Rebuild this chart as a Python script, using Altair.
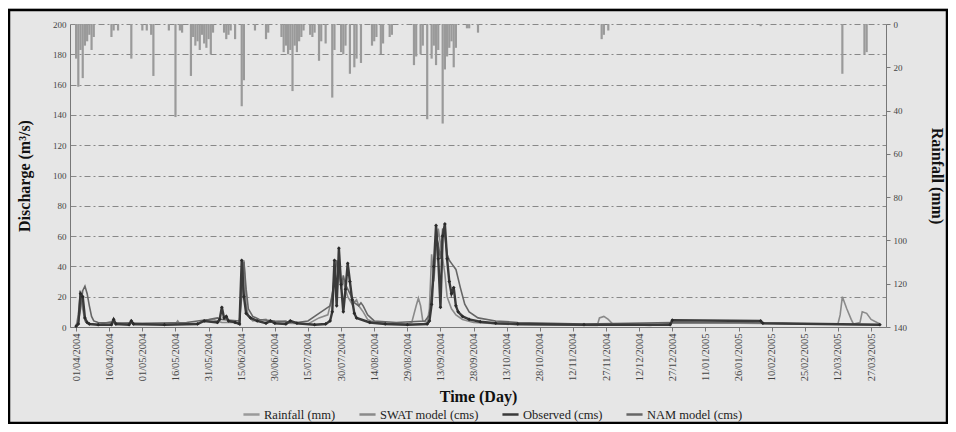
import altair as alt
import pandas as pd

# ---------------- data (day 0 = 01/04/2004) ----------------
tick_days = list(range(0, 361, 15))
tick_labels = ["01/04/2004", "16/04/2004", "01/05/2004", "16/05/2004", "31/05/2004",
               "15/06/2004", "30/06/2004", "15/07/2004", "30/07/2004", "14/08/2004",
               "29/08/2004", "13/09/2004", "28/09/2004", "13/10/2004", "28/10/2004",
               "12/11/2004", "27/11/2004", "12/12/2004", "27/12/2004", "11/01/2005",
               "26/01/2005", "10/02/2005", "25/02/2005", "12/03/2005", "27/03/2005"]

rain_day = [0, 1, 2, 3, 4, 5, 6, 7, 8, 16, 17, 19, 25, 30, 32, 34, 35, 42, 45, 47, 48, 52,
            53, 54, 55, 56, 57, 58, 59, 60, 61, 62, 67, 68, 69, 70, 72, 75, 76, 81, 86, 87,
            93, 94, 95, 96, 97, 98, 99, 100, 101, 102, 103, 106, 107, 108, 110, 111, 113,
            116, 117, 120, 121, 122, 124, 126, 127, 129, 134, 135, 136, 138, 139, 142, 143,
            153, 154, 156, 157, 159, 161, 162, 163, 164, 166, 167, 168, 169, 170, 171, 172,
            177, 178, 182, 238, 239, 241, 310, 347, 357, 358]
rain_mm = [16, 29, 12, 25, 10, 8, 5, 12, 6, 6, 3, 3, 16, 3, 3, 5, 24, 3, 43, 3, 4, 24,
           6, 10, 8, 12, 5, 9, 11, 7, 14, 4, 4, 7, 5, 3, 7, 38, 26, 3, 7, 4,
           6, 13, 10, 14, 12, 31, 10, 13, 8, 6, 3, 5, 6, 4, 17, 8, 9,
           34, 12, 13, 14, 10, 23, 20, 16, 18, 10, 8, 6, 14, 9, 6, 5,
           19, 15, 14, 10, 44, 16, 10, 19, 12, 46, 21, 15, 11, 8, 20, 11,
           2, 2, 4, 7, 5, 3, 1, 23, 14, 13]

swat_day = [0, 1, 2, 3, 4, 5, 10, 17, 18, 25, 26, 45, 46, 47, 55, 57, 62, 66, 74, 75, 76,
            77, 78, 80, 86, 87, 95, 96, 105, 110, 114, 116, 117, 118, 119, 120, 121, 122,
            123, 125, 127, 128, 130, 132, 135, 150, 152, 154, 155, 156, 157, 159, 160, 161,
            162, 163, 164, 165, 166, 167, 168, 170, 172, 175, 180, 200, 236, 237, 239, 241,
            243, 260, 270, 300, 345, 346, 347, 349, 351, 352, 355, 356, 358, 360, 364]
swat_q = [0.5, 8, 24, 12, 4, 2.5, 1.5, 4, 1.5, 3, 1.5, 2, 4, 2, 2, 4, 5, 3, 3, 30, 44,
          15, 7, 4, 5, 3, 4, 2.5, 2, 6, 8, 20, 35, 20, 38, 28, 30, 25,
          20, 15, 18, 14, 10, 5, 3, 2, 3, 14, 19, 14, 4, 3, 12, 48,
          30, 50, 65, 55, 45, 35, 20, 12, 8, 5, 3, 1.5, 1, 6, 7, 5,
          2, 1, 2.5, 2.5, 2, 8, 20, 12, 5, 2, 3, 10, 9, 5, 2]

nam_day = [0, 1, 2, 3, 4, 5, 6, 7, 8, 10, 30, 50, 55, 60, 64, 66, 74, 75, 76, 77, 78, 80,
           83, 90, 100, 105, 110, 113, 115, 117, 118, 119, 120, 121, 122, 124, 126, 128,
           129, 130, 132, 135, 145, 158, 160, 162, 163, 164, 165, 166, 167, 168, 169, 170,
           172, 174, 176, 178, 182, 190, 200, 230, 270, 300, 330, 364]
nam_q = [1, 3, 12, 24, 27, 22, 14, 7, 4, 3, 2.5, 3, 4, 5, 6, 5, 4, 20, 43, 25, 12, 7,
         5, 4, 3, 4, 9, 12, 14, 30, 44, 40, 25, 34, 28, 22, 16, 14,
         16, 14, 8, 4, 3, 4, 8, 35, 60, 55, 45, 65, 60, 48, 44, 42,
         38, 26, 15, 10, 6, 4, 3, 2, 3, 3, 2, 1.5]

obs_day = [0, 1, 2, 3, 4, 5, 6, 10, 16, 17, 18, 24, 25, 26, 40, 55, 58, 64, 65, 66, 67, 68,
           69, 72, 74, 75, 76, 77, 79, 82, 86, 88, 90, 95, 97, 100, 108, 113, 115, 116, 117,
           118, 119, 120, 121, 122, 123, 124, 125, 126, 127, 133, 140, 150, 159, 160, 161,
           162, 163, 164, 165, 166, 167, 168, 169, 170, 171, 172, 173, 175, 178, 183, 190,
           200, 230, 269, 270, 310, 311, 364]
obs_q = [0.5, 2, 22, 20, 6, 3, 2, 1.5, 1.5, 5, 2, 1.5, 4, 2, 1.5, 2, 4, 3, 5, 13, 6, 7,
         4, 3, 2, 44, 20, 9, 6, 4, 2.5, 4, 2.5, 2, 4, 2.5, 1.5, 2, 4, 10, 44,
         14, 52, 28, 10, 25, 42, 30, 18, 9, 6, 3, 2, 1.5, 2, 4, 15,
         40, 67, 45, 13, 60, 68, 45, 30, 22, 26, 14, 10, 7, 5, 3.5, 2.5,
         2, 1.5, 1.5, 4.5, 4, 2.5, 1.5]

series_names = ["Rainfall (mm)", "SWAT model (cms)", "Observed (cms)", "NAM model (cms)"]
series_colors = ["#9a9a9a", "#8a8a8a", "#3a3a3a", "#666666"]

# ---------------- tables ----------------
rain_df = pd.DataFrame({"day": rain_day, "mm": rain_mm, "series": series_names[0]})
model_df = pd.concat([
    pd.DataFrame({"day": swat_day, "q": swat_q, "series": series_names[1]}),
    pd.DataFrame({"day": nam_day, "q": nam_q, "series": series_names[3]}),
])
obs_df = pd.DataFrame({"day": obs_day, "q": obs_q, "series": series_names[2]})

FONT = "Liberation Serif"
label_expr = "[" + ",".join("'%s'" % t for t in tick_labels) + "][round(datum.value/15)]"

x_scale = alt.Scale(domain=[-0.5, 364.5], nice=False, zero=False)
x_enc = alt.X("day:Q", scale=x_scale,
              axis=alt.Axis(values=tick_days, labelExpr=label_expr, labelAngle=-90,
                            title="Time (Day)", titleFont=FONT, titleFontSize=16,
                            titleFontWeight="bold", titleColor="#111", titlePadding=8,
                            labelFont=FONT, labelFontSize=10.5, labelColor="#444",
                            domainColor="#777", tickColor="#777", tickSize=4,
                            labelPadding=2, grid=False))

color_scale = alt.Scale(domain=series_names, range=series_colors)
legend = alt.Legend(orient="none", legendX=172, legendY=381, direction="horizontal",
                    title=None, symbolType="stroke", symbolStrokeWidth=2.5,
                    symbolSize=260, labelFont=FONT, labelFontSize=12.5, labelColor="#222",
                    columnPadding=18, labelOffset=3)

q_axis = alt.Axis(values=list(range(0, 201, 20)), title="Discharge (m³/s)",
                  titleFont=FONT, titleFontSize=16, titleFontWeight="bold",
                  titleColor="#111", titlePadding=20, labelFont=FONT, labelFontSize=9,
                  labelColor="#444", domainColor="#777", tickSize=0, labelPadding=4,
                  grid=True, gridColor="#707070", gridDash=[6, 3, 2, 3], gridWidth=0.8)
q_scale = alt.Scale(domain=[0, 200], nice=False)

rain = alt.Chart(rain_df).mark_bar(size=2.2).encode(
    x=x_enc,
    y=alt.Y("mm:Q", scale=alt.Scale(domain=[0, 140], reverse=True, nice=False),
            axis=alt.Axis(orient="right", values=list(range(0, 141, 20)),
                          title="Rainfall (mm)", titleAngle=90, titleFont=FONT,
                          titleFontSize=16, titleFontWeight="bold", titleColor="#111",
                          titlePadding=22, labelFont=FONT, labelFontSize=9,
                          labelColor="#444", domainColor="#777", tickColor="#777",
                          tickSize=4, labelPadding=3, grid=False)),
    color=alt.Color("series:N", scale=color_scale, legend=legend),
)

models = alt.Chart(model_df).mark_line(strokeWidth=1.6).encode(
    x=x_enc,
    y=alt.Y("q:Q", scale=q_scale, axis=q_axis),
    color=alt.Color("series:N", scale=color_scale, legend=legend),
    detail="series:N",
)

obs_line = alt.Chart(obs_df).mark_line(strokeWidth=2.4).encode(
    x=x_enc,
    y=alt.Y("q:Q", scale=q_scale, axis=q_axis),
    color=alt.Color("series:N", scale=color_scale, legend=legend),
)
obs_pts = alt.Chart(obs_df).mark_point(shape="diamond", filled=True, size=14,
                                       color="#2a2a2a", opacity=1).encode(
    x=x_enc,
    y=alt.Y("q:Q", scale=q_scale, axis=q_axis),
)

frame = alt.Chart(pd.DataFrame({"a": [0]})).mark_rect(
    filled=False, stroke="#000", strokeWidth=2.5).encode(
    x=alt.value(-61), x2=alt.value(877), y=alt.value(-14), y2=alt.value(399))

lines = alt.layer(models, obs_line, obs_pts)
chart = alt.layer(rain, lines, frame).resolve_scale(y="independent").properties(
    width=816, height=303,
    autosize=alt.AutoSizeParams(type="none"),
    padding={"left": 62, "top": 16, "right": 62, "bottom": 97},
    background="#e6e6e6",
).configure_view(stroke=None)

chart.save("out.html", embed_options={"renderer": "svg", "actions": False})
